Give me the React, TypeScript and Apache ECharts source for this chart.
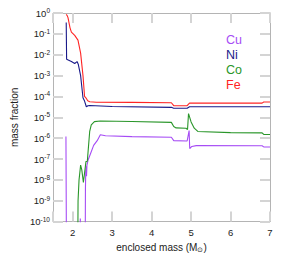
import React, { useEffect, useRef } from "react";
import * as echarts from "echarts";

const xTicks = [2, 3, 4, 5, 6, 7];
const legendNames = ["Cu", "Ni", "Co", "Fe"];
const legendColors = ["#a64cf5", "#1a1a8a", "#2a962a", "#ff2424"];

// [enclosed mass, mass fraction]
const cuData: [number, number][] = [
  [1.828, 1.2e-6], [1.842, 1e-12], [2.18, 1e-12], [2.192, 1.4e-10], [2.2, 1e-12],
  [2.315, 1e-12], [2.322, 3.6e-9], [2.33, 2.6e-8], [2.345, 4.5e-8], [2.35, 1.5e-8],
  [2.36, 5e-8], [2.39, 9e-8], [2.45, 1.8e-7], [2.53, 4.5e-7], [2.62, 7.6e-7],
  [2.7, 1.45e-6], [2.83, 1.3e-6], [3.5, 1.18e-6], [4.5, 1.1e-6], [4.56, 7.6e-7],
  [4.9, 7.3e-7], [4.95, 2.3e-6], [4.965, 3.2e-7], [5.02, 4.0e-7], [5.13, 4.4e-7],
  [6.8, 4.3e-7], [6.84, 3.8e-7], [7.0, 3.8e-7],
];
const niData: [number, number][] = [
  [1.835, 0.35], [1.845, 0.006], [1.966, 0.0047], [2.05, 0.0038], [2.11, 0.0047],
  [2.14, 0.0035], [2.2, 1e-3], [2.26, 8.7e-5], [2.3, 6e-5], [2.345, 3.2e-5],
  [2.385, 3.6e-5], [2.43, 3.7e-5], [3.0, 3.3e-5], [4.5, 3.0e-5], [4.56, 2.7e-5],
  [4.9, 2.7e-5], [4.96, 3.2e-5], [7.0, 3.2e-5],
];
const coData: [number, number][] = [
  [2.125, 1e-12], [2.135, 1e-9], [2.16, 1e-8], [2.2, 5.1e-8], [2.23, 3e-8],
  [2.27, 7.5e-9], [2.31, 3e-8], [2.335, 7.5e-8], [2.37, 7.9e-8], [2.43, 2.1e-6],
  [2.47, 4.3e-6], [2.55, 6.2e-6], [2.7, 6.6e-6], [3.5, 6.3e-6], [4.5, 5.7e-6],
  [4.56, 3.6e-6], [4.62, 3.1e-6], [4.87, 3.0e-6], [4.91, 2.6e-6], [4.935, 1.5e-5],
  [5.0, 6e-6], [5.08, 3e-6], [5.17, 2.1e-6], [6.0, 1.85e-6], [6.8, 1.8e-6],
  [6.84, 1.5e-6], [7.0, 1.5e-6],
];
const feData: [number, number][] = [
  [1.835, 0.85], [1.86, 0.75], [1.88, 0.6], [1.93, 0.2], [1.966, 0.12],
  [2.05, 0.085], [2.133, 0.05], [2.2, 0.012], [2.26, 1e-3], [2.3, 1.0e-4],
  [2.345, 8e-5], [2.38, 6.2e-5], [2.43, 5.6e-5], [2.6, 5.3e-5], [3.5, 5.2e-5],
  [4.5, 5.0e-5], [4.56, 3.6e-5], [4.9, 3.6e-5], [4.96, 4.8e-5], [5.1, 4.8e-5],
  [6.8, 4.8e-5], [6.84, 5.4e-5], [7.0, 5.4e-5],
];

const FONT = "Liberation Sans";

export default function App() {
  const ref = useRef<HTMLDivElement>(null);
  useEffect(() => {
    if (!ref.current) return;
    document.body.style.margin = "0";
    const chart = echarts.init(ref.current, undefined, { renderer: "svg" });
    const tickStyle = { color: "#d4d4d4", width: 2 };
    const frame = { show: true, lineStyle: { color: "#b4b4b4", width: 1 } };
    const expLabel = (v: number) => {
      const e = Math.round(Math.log10(v));
      return "{b|10}{s|" + e + "}";
    };
    const datas = [cuData, niData, coData, feData];
    chart.setOption({
      animation: false,
      textStyle: { fontFamily: FONT },
      grid: { left: 53, right: 23, top: 13, bottom: 27, containLabel: false },
      xAxis: [
        {
          type: "value",
          min: 1.5,
          max: 7,
          splitNumber: 5,
          axisLine: frame,
          axisTick: { inside: true, length: 10, lineStyle: tickStyle },
          splitLine: { show: false },
          axisLabel: {
            margin: 6,
            fontSize: 9.5,
            color: "#222",
            fontFamily: FONT,
            formatter: (v: number) => (xTicks.indexOf(v) >= 0 ? String(v) : ""),
          },
          name: "enclosed mass (M{sub|⊙})",
          nameLocation: "middle",
          nameGap: 19,
          nameTextStyle: {
            fontSize: 10,
            color: "#222",
            fontFamily: FONT,
            rich: { sub: { fontSize: 7, color: "#222", fontFamily: FONT, padding: [4, 0, 0, 0] } },
          },
        },
        {
          type: "value",
          position: "top",
          min: 1.5,
          max: 7,
          splitNumber: 5,
          axisLine: frame,
          axisTick: { inside: true, length: 10, lineStyle: tickStyle },
          splitLine: { show: false },
          axisLabel: { show: false },
        },
      ],
      yAxis: [
        {
          type: "log",
          logBase: 10,
          min: 1e-10,
          max: 1,
          interval: 1,
          axisLine: frame,
          axisTick: { inside: true, length: 10, lineStyle: tickStyle },
          splitLine: { show: false },
          minorTick: { show: false },
          axisLabel: {
            margin: 3,
            formatter: expLabel,
            rich: {
              b: { fontSize: 9.5, color: "#222", fontFamily: FONT },
              s: { fontSize: 6.5, color: "#222", fontFamily: FONT, padding: [0, 0, 5, 0] },
            },
          },
          name: "mass fraction",
          nameLocation: "middle",
          nameGap: 31,
          nameRotate: 90,
          nameTextStyle: { fontSize: 10, color: "#222", fontFamily: FONT },
        },
        {
          type: "log",
          logBase: 10,
          position: "right",
          min: 1e-10,
          max: 1,
          interval: 1,
          axisLine: frame,
          axisTick: { inside: true, length: 10, lineStyle: tickStyle },
          splitLine: { show: false },
          axisLabel: { show: false },
        },
      ],
      series: legendNames.map((n, i) => ({
        name: n,
        type: "line",
        xAxisIndex: 0,
        yAxisIndex: 0,
        data: datas[i],
        showSymbol: false,
        symbol: "none",
        clip: true,
        z: i + 2,
        lineStyle: { color: legendColors[i], width: 1.1 },
      })),
      graphic: legendNames.map((n, i) => ({
        type: "text",
        left: 226,
        top: 33 + i * 15.3,
        style: { text: n, fill: legendColors[i], fontSize: 12.5, fontFamily: FONT },
      })),
    });
    return () => chart.dispose();
  }, []);
  return <div ref={ref} style={{ width: 293, height: 258 }} />;
}
